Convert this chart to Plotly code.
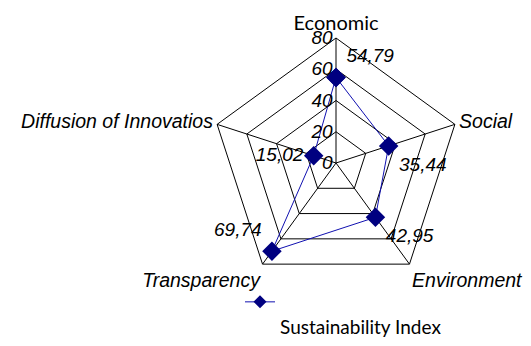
import plotly.graph_objects as go

categories = ["Economic", "Social", "Environment", "Transparency", "Diffusion of Innovatios"]
values = [54.79, 35.44, 42.95, 69.74, 15.02]
radial_ticks = [0, 20, 40, 60, 80]
series_name = "Sustainability Index"

cat_text = ["<span style='font-family:Lato;font-size:20px'>" + categories[0] + "</span>"] + \
    ["<i>" + c + "</i>" for c in categories[1:]]
labels = [f"{v:.2f}".replace(".", ",") for v in values]
text_pos = ["top right", "bottom right", "bottom right", "top left", "middle left"]

fig = go.Figure()
fig.add_trace(go.Scatterpolar(
    r=values + [values[0]],
    theta=categories + [categories[0]],
    mode="lines+markers+text",
    text=labels + [""],
    textposition=text_pos + ["middle right"],
    textfont=dict(family="Liberation Sans", size=19, color="black", style="italic"),
    line=dict(color="#1010B0", width=1),
    marker=dict(symbol="diamond", size=15, color="#000080"),
    name=series_name,
    showlegend=False,
    cliponaxis=False,
))
# legend entry (no data drawn)
fig.add_trace(go.Scatterpolar(
    r=[None], theta=[None],
    mode="lines+markers",
    line=dict(color="#1010B0", width=1),
    marker=dict(symbol="diamond", size=10, color="#000080"),
    name="&nbsp;<br>" + series_name,
    showlegend=True,
))

cx, cy, R = 336, 163, 125
W, H = 531, 346
fig.update_layout(
    width=W, height=H,
    margin=dict(l=0, r=0, t=0, b=0),
    paper_bgcolor="white",
    plot_bgcolor="white",
    showlegend=True,
    legend=dict(x=0.452, y=0.0, xanchor="left", yanchor="bottom", valign="top",
                bgcolor="rgba(0,0,0,0)",
                font=dict(family="Lato", size=19, color="black")),
    polar=dict(
        domain=dict(x=[(cx - R) / W, (cx + R) / W], y=[(H - cy - R) / H, (H - cy + R) / H]),
        bgcolor="white",
        gridshape="linear",
        radialaxis=dict(
            range=[0, 80], tickvals=radial_ticks, angle=90,
            tickangle=90,
            showline=False, gridcolor="black", gridwidth=1,
            ticks="", side="counterclockwise",
            tickfont=dict(family="Liberation Sans", size=19, color="black", style="italic"),
        ),
        angularaxis=dict(
            rotation=90, direction="clockwise",
            tickmode="array", tickvals=categories, ticktext=cat_text,
            linecolor="black", linewidth=1, gridcolor="black", gridwidth=1,
            ticks="",
            tickfont=dict(family="Liberation Sans", size=19.5, color="black"),
        ),
    ),
)
fig.write_html("out.html")
